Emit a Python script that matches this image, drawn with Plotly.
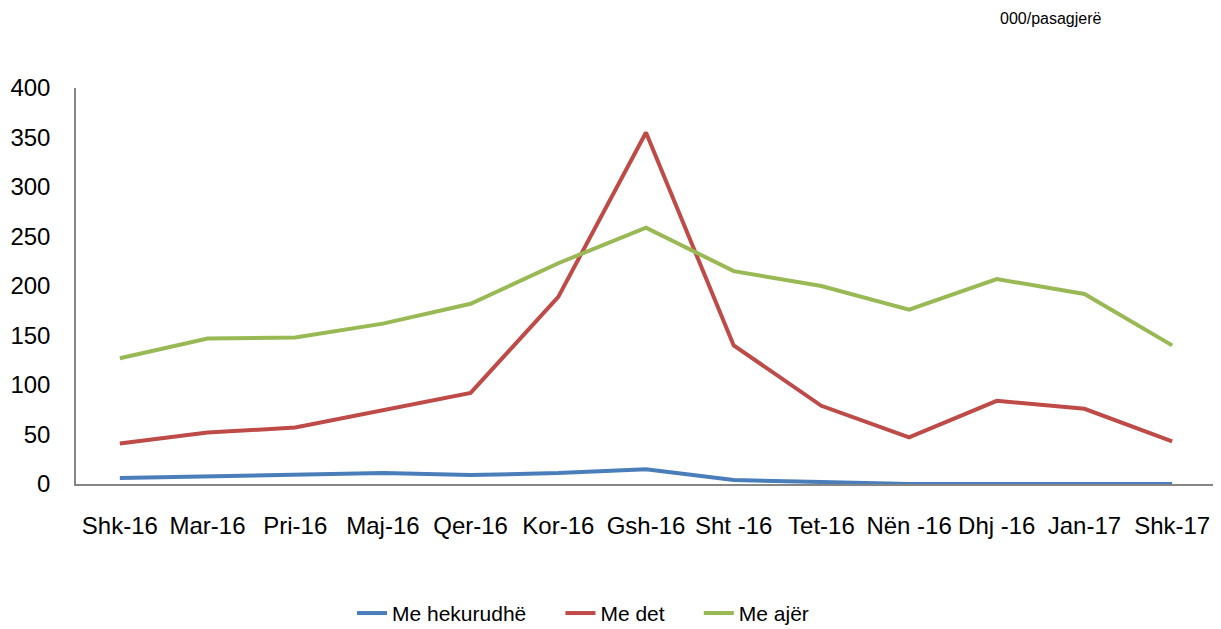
import plotly.graph_objects as go

months = ["Shk-16", "Mar-16", "Pri-16", "Maj-16", "Qer-16", "Kor-16", "Gsh-16",
          "Sht -16", "Tet-16", "Nën -16", "Dhj -16", "Jan-17", "Shk-17"]
hekurudhe = [6, 8, 9, 11, 9, 11, 15, 4, 2, 0, 0, 0, 0]
det = [41, 52, 57, 74, 92, 189, 355, 140, 79, 47, 84, 76, 43]
ajer = [127, 147, 148, 162, 182, 223, 259, 215, 200, 176, 207, 192, 140]

series = [("Me hekurudhë", hekurudhe, "#4A7EBB"),
          ("Me det", det, "#BE4B48"),
          ("Me ajër", ajer, "#98B954")]

fig = go.Figure()
for name, vals, col in series:
    fig.add_trace(go.Scatter(x=months, y=vals, name=name + "     ", mode="lines",
                             line=dict(color=col, width=4)))

font = "Liberation Sans, Arial, sans-serif"
# the page body has an 8px margin, so figure coords = screen coords - 8
W, H = 1213, 621
L, R, T, B = 68, 5, 80, 145
PW, PH = W - L - R, H - T - B
fig.update_layout(
    width=W, height=H,
    margin=dict(l=L, r=R, t=T, b=B, autoexpand=False),
    paper_bgcolor="white", plot_bgcolor="white",
    font=dict(family=font, size=24, color="black"),
    showlegend=True,
    legend=dict(orientation="h", x=(348 - L - 4) / PW, xanchor="left",
                y=-0.275, yanchor="top",
                font=dict(size=21), itemwidth=30, tracegroupgap=0),
    xaxis=dict(type="category", range=[-0.5, 12.5], showgrid=False, automargin=False,
               showline=True, linecolor="#868686", linewidth=1.5,
               ticks="", ticklabelstandoff=19, tickfont=dict(size=24)),
    yaxis=dict(range=[0, 400], dtick=50, showgrid=False, zeroline=False, automargin=False,
               showline=True, linecolor="#868686", linewidth=1.5,
               ticks="", ticklabelstandoff=19, tickfont=dict(size=24)),
    annotations=[dict(text="000/pasagjerë",
                      x=(1043 - L) / PW, y=(H - B - 10) / PH,
                      xref="paper", yref="paper", xanchor="center", yanchor="middle",
                      showarrow=False,
                      font=dict(family=font, size=16))],
)
fig.write_html("out.html")
